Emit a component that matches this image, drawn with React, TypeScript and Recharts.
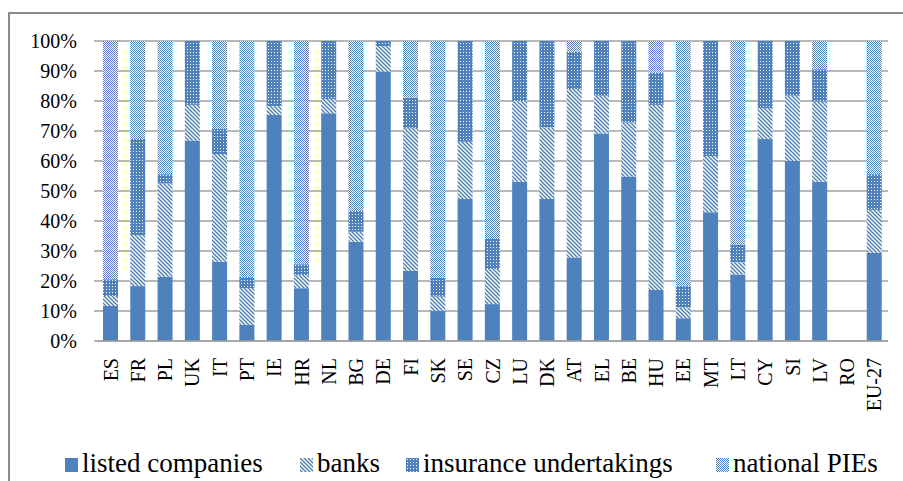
import React from 'react';
import { BarChart, Bar, XAxis, YAxis, CartesianGrid, Legend } from 'recharts';

const categories = ['ES','FR','PL','UK','IT','PT','IE','HR','NL','BG','DE','FI','SK','SE','CZ','LU','DK','AT','EL','BE','HU','EE','MT','LT','CY','SI','LV','RO','EU-27'];
const listed    = [11.7,18.3,21.4,66.8,26.4, 5.4,75.3,17.6,75.9,33.1,89.8,23.4,10.1,47.3,12.3,53.1,47.3,27.8,69.2,54.8,17.0, 7.6,42.9,22.2,67.3,60.0,53.1,0,29.4];
const banks     = [ 3.3,17.0,31.1,11.9,35.9,12.2, 3.0, 4.4, 4.8, 3.3, 8.5,47.5, 4.7,19.1,11.7,26.9,23.9,56.1,12.6,18.0,61.7, 3.6,18.8, 4.0,10.3,21.8,26.7,0,14.3];
const insurance = [ 5.6,32.0, 3.1,21.3, 8.4, 3.8,21.7, 3.6,19.3, 6.9, 1.7,10.2, 6.3,33.6,10.0,20.0,28.8,12.5,18.2,27.2,10.7, 7.2,38.3, 6.0,22.4,18.2,10.8,0,11.9];
const national  = [79.4,32.7,44.4, 0.0,29.3,78.6, 0.0,74.4, 0.0,56.7, 0.0,18.9,78.9, 0.0,66.0, 0.0, 0.0, 3.6, 0.0, 0.0,10.6,81.6, 0.0,67.8, 0.0, 0.0, 9.4,0,44.4];
const yTicks = [0,10,20,30,40,50,60,70,80,90,100];

const seriesNames = ['listed companies','banks','insurance undertakings','national PIEs'];
const seriesKeys = ['listed','banks','insurance','national'];
const seriesFills = ['#4F81BD','url(#pBanks)','url(#pIns)','url(#pNat)'];

const data = categories.map((c, i) => ({
  name: c,
  listed: listed[i],
  banks: banks[i],
  insurance: insurance[i],
  national: national[i],
}));

const FONT = '"Liberation Serif", "Times New Roman", serif';
const GRID = '#A0A0A0';
const legendLefts = [65, 300, 406, 716];

const XTick = (props: any) => {
  const { x, y, payload } = props;
  return (
    <text
      transform={`translate(${x + 7},${y + 17}) rotate(-90)`}
      textAnchor="end"
      fontSize={20}
      fontFamily={FONT}
      fill="#000"
    >
      {payload.value}
    </text>
  );
};

const LegendContent = (props: any) => {
  const payload = [...(props.payload || [])].sort(
    (a: any, b: any) => seriesKeys.indexOf(a.dataKey) - seriesKeys.indexOf(b.dataKey)
  );
  return (
    <div style={{ position: 'relative', width: 903, height: 34, fontFamily: FONT }}>
      {payload.map((p: any) => {
        const idx = seriesKeys.indexOf(p.dataKey);
        return (
          <div key={p.dataKey} style={{ position: 'absolute', left: legendLefts[idx], top: 0, display: 'flex', alignItems: 'center', whiteSpace: 'nowrap' }}>
            <svg width={13} height={14} style={{ display: 'block', marginRight: 4, marginTop: 4 }}>
              <rect x={0} y={0} width={13} height={14} fill={seriesFills[idx]} />
            </svg>
            <span style={{ fontSize: 27, lineHeight: '32px', color: '#000' }}>{seriesNames[idx]}</span>
          </div>
        );
      })}
    </div>
  );
};

export default function App() {
  return (
    <div style={{ position: 'absolute', left: 0, top: 0, width: 903, height: 481, overflow: 'hidden', background: '#fff' }}>
      <div style={{ position: 'absolute', left: 8, top: 12, width: 1000, height: 1000, borderLeft: '2px solid #8C8C8C', borderTop: '2px solid #8C8C8C' }} />
      <div style={{ position: 'absolute', left: 0, top: 0 }}>
        <BarChart
          width={903}
          height={481}
          data={data}
          margin={{ top: 41, right: 15, left: 0, bottom: 0 }}
          barSize={15}
          style={{ fontFamily: FONT }}
        >
          <defs>
            <pattern id="pBanks" width="4" height="4" patternUnits="userSpaceOnUse">
              <rect width="4" height="4" fill="#fff" />
              <path d="M-1,-1 L5,5 M-1,3 L1,5 M3,-1 L5,1" stroke="#4F81BD" strokeWidth="1.5" />
            </pattern>
            <pattern id="pIns" width="3" height="3" patternUnits="userSpaceOnUse">
              <rect width="3" height="3" fill="#4F81BD" shapeRendering="crispEdges" />
              <rect x="1" y="1" width="1" height="1" fill="#fff" shapeRendering="crispEdges" />
            </pattern>
            <pattern id="pNat" width="2" height="2" patternUnits="userSpaceOnUse">
              <rect width="2" height="2" fill="#fff" shapeRendering="crispEdges" />
              <rect x="0" y="0" width="1" height="1" fill="#4F81BD" shapeRendering="crispEdges" />
              <rect x="1" y="1" width="1" height="1" fill="#4F81BD" shapeRendering="crispEdges" />
            </pattern>
          </defs>
          <CartesianGrid vertical={false} stroke={GRID} strokeWidth={1.5} />
          <XAxis
            dataKey="name"
            interval={0}
            height={140}
            tickLine={false}
            tickSize={0}
            tickMargin={0}
            axisLine={{ stroke: GRID, strokeWidth: 1.5 }}
            tick={<XTick />}
          />
          <YAxis
            width={97}
            domain={[0, 100]}
            ticks={yTicks}
            interval={0}
            tickFormatter={(v: number) => `${v}%`}
            axisLine={false}
            tickLine={{ stroke: GRID, strokeWidth: 1.5 }}
            tickSize={3}
            tickMargin={17}
            tick={{ fontSize: 20, fill: '#000', fontFamily: FONT }}
          />
          <Legend
            layout="horizontal"
            verticalAlign="middle"
            align="center"
            content={<LegendContent />}
            wrapperStyle={{ top: 447, left: 0, width: 903 }}
          />
          {seriesKeys.map((k, i) => (
            <Bar key={k} dataKey={k} name={seriesNames[i]} stackId="a" fill={seriesFills[i]} isAnimationActive={false} />
          ))}
        </BarChart>
      </div>
    </div>
  );
}
